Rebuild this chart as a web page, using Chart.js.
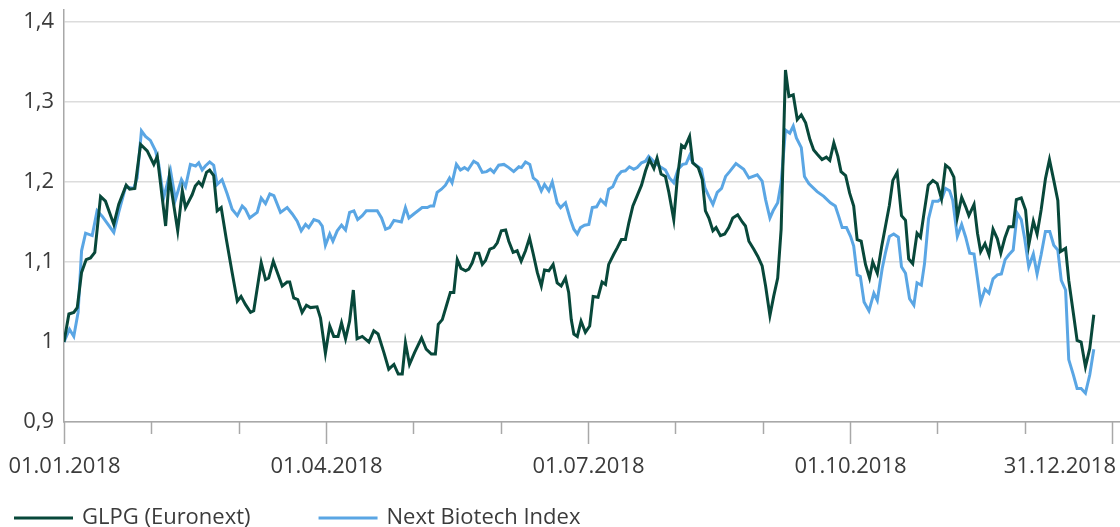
<!DOCTYPE html>
<html>
<head>
<meta charset="utf-8">
<script src="https://cdn.jsdelivr.net/npm/chart.js@4.4.1/dist/chart.umd.min.js"></script>
<style>
    html, body { margin: 0; padding: 0; background: #fff; }
    #wrap { width: 1120px; height: 527px; position: relative; }
</style>
</head>
<body>
<div id="wrap"><canvas id="perfChart"></canvas></div>
<script>
// Series labels
const seriesLabels = ['GLPG (Euronext)', 'Next Biotech Index'];

// x values are days since 01.01.2018
const glpgDays = [0, 1.7, 3.4, 4.6, 6.1, 7.7, 9.2, 10.7, 12.7, 14.4, 17.3, 19.0, 21.6, 22.8, 24.6, 26.6, 28.9, 31.2, 32.4, 35.3,
    36.6, 39.5, 41.1, 42.2, 44.5, 45.6, 46.8, 48.0, 49.5, 50.6, 52.0, 53.2, 54.6, 56.4, 58.4, 60.2, 61.5, 63.0, 64.8, 65.9,
    68.5, 70.0, 71.1, 72.7, 74.1, 75.8, 77.5, 78.4, 79.8, 81.2, 82.7, 84.2, 85.6, 87.9, 89.1, 90.8, 92.3, 93.7, 95.2, 96.4,
    97.8, 99.2, 100.5, 101.8, 103.6, 105.9, 107.6, 109.1, 111.1, 112.8, 114.6, 116.1, 117.5, 118.6, 120.0, 121.8, 124.2, 125.8, 127.6, 129.0,
    130.0, 131.4, 132.8, 134.2, 135.4, 136.6, 137.9, 139.5, 140.6, 141.8, 142.9, 144.1, 145.3, 146.4, 147.9, 149.3, 150.5, 151.9, 153.4, 154.5,
    156.0, 157.4, 158.8, 160.3, 161.7, 163.0, 164.4, 165.8, 166.9, 168.4, 169.9, 171.3, 172.7, 174.2, 175.3, 176.2, 177.1, 178.3, 179.6, 181.1,
    182.6, 183.8, 185.5, 186.9, 188.1, 189.2, 191.0, 192.2, 193.6, 195.0, 196.2, 197.6, 199.1, 200.6, 202.0, 203.4, 204.9, 206.0, 207.4, 208.9,
    210.1, 211.8, 213.0, 214.5, 215.6, 217.3, 218.4, 220.3, 221.7, 222.8, 224.0, 225.4, 226.5, 228.0, 229.5, 230.9, 232.3, 234.0, 235.6, 236.7,
    237.9, 239.6, 241.0, 242.5, 243.7, 245.2, 246.5, 247.9, 249.1, 250.6, 251.8, 253.3, 254.7, 256.1, 257.6, 259.1, 260.4, 261.8, 263.3, 264.8,
    266.0, 267.4, 268.8, 269.9, 271.5, 272.9, 274.3, 275.5, 276.9, 278.4, 279.8, 280.9, 282.5, 284.0, 285.3, 286.7, 287.9, 289.4, 290.9, 292.3,
    293.4, 294.8, 296.3, 297.5, 298.6, 300.2, 301.8, 303.3, 304.8, 306.2, 307.6, 309.1, 310.3, 311.8, 313.2, 314.3, 316.1, 317.3, 318.4, 319.9,
    321.3, 322.7, 324.2, 325.4, 326.8, 328.2, 329.7, 330.8, 332.5, 334.0, 335.1, 336.7, 338.0, 339.4, 340.9, 342.3, 343.8, 345.2, 346.1, 347.9,
    349.0, 350.6, 351.9, 353.3, 354.8, 356.3, 357.7];
const glpgValues = [1.000, 1.035, 1.037, 1.043, 1.087, 1.103, 1.105, 1.112, 1.182, 1.176, 1.147, 1.172, 1.196, 1.191, 1.192, 1.247, 1.239, 1.222, 1.232, 1.145,
    1.207, 1.139, 1.189, 1.168, 1.184, 1.195, 1.200, 1.195, 1.212, 1.215, 1.208, 1.164, 1.168, 1.128, 1.087, 1.051, 1.057, 1.047, 1.037, 1.039,
    1.099, 1.078, 1.080, 1.101, 1.087, 1.070, 1.075, 1.075, 1.055, 1.053, 1.037, 1.046, 1.043, 1.044, 1.030, 0.986, 1.020, 1.007, 1.007, 1.024,
    1.004, 1.026, 1.065, 1.004, 1.007, 1.000, 1.014, 1.010, 0.987, 0.966, 0.972, 0.960, 0.960, 0.999, 0.972, 0.987, 1.005, 0.991, 0.985, 0.985,
    1.022, 1.028, 1.045, 1.062, 1.062, 1.103, 1.092, 1.089, 1.091, 1.099, 1.111, 1.111, 1.097, 1.102, 1.116, 1.118, 1.124, 1.139, 1.140, 1.126,
    1.112, 1.114, 1.101, 1.114, 1.130, 1.110, 1.087, 1.070, 1.090, 1.089, 1.097, 1.074, 1.070, 1.080, 1.062, 1.028, 1.010, 1.007, 1.026, 1.012,
    1.020, 1.057, 1.056, 1.075, 1.072, 1.097, 1.110, 1.118, 1.128, 1.128, 1.149, 1.170, 1.183, 1.196, 1.214, 1.228, 1.217, 1.230, 1.210, 1.207,
    1.187, 1.153, 1.203, 1.246, 1.243, 1.257, 1.224, 1.218, 1.203, 1.164, 1.155, 1.139, 1.143, 1.133, 1.135, 1.143, 1.155, 1.159, 1.150, 1.145,
    1.126, 1.116, 1.107, 1.095, 1.070, 1.033, 1.057, 1.080, 1.141, 1.340, 1.307, 1.309, 1.278, 1.284, 1.274, 1.253, 1.240, 1.234, 1.228, 1.231,
    1.227, 1.249, 1.232, 1.213, 1.208, 1.186, 1.170, 1.128, 1.126, 1.097, 1.080, 1.100, 1.086, 1.119, 1.144, 1.171, 1.202, 1.212, 1.158, 1.152,
    1.104, 1.098, 1.136, 1.131, 1.158, 1.196, 1.202, 1.198, 1.179, 1.221, 1.217, 1.206, 1.156, 1.181, 1.169, 1.158, 1.172, 1.136, 1.113, 1.123,
    1.109, 1.141, 1.129, 1.111, 1.130, 1.144, 1.144, 1.178, 1.180, 1.165, 1.121, 1.151, 1.135, 1.165, 1.204, 1.228, 1.202, 1.177, 1.113, 1.117,
    1.077, 1.036, 1.002, 1.000, 0.969, 0.992, 1.034];

const nbiDays = [0, 1.9, 3.4, 4.9, 6.1, 7.5, 9.8, 11.5, 13.3, 17.3, 19.0, 21.4, 24.2, 25.4, 26.9, 28.3, 30.0, 31.8, 32.9, 34.6,
    37.0, 38.7, 40.8, 42.2, 43.9, 45.7, 46.8, 48.0, 49.1, 50.6, 52.0, 53.2, 54.9, 56.7, 58.4, 60.2, 61.9, 63.0, 64.5, 67.1,
    68.5, 70.0, 71.5, 72.9, 75.2, 77.5, 79.3, 81.0, 82.4, 83.9, 85.0, 86.8, 88.5, 89.7, 90.8, 92.3, 93.4, 94.9, 96.4, 97.8,
    99.2, 100.7, 102.0, 103.6, 105.0, 108.8, 110.3, 111.7, 113.1, 114.6, 117.2, 118.6, 119.8, 121.5, 124.4, 126.2, 127.3, 128.4, 129.6, 131.1,
    132.5, 133.9, 134.8, 136.3, 137.7, 139.1, 140.3, 142.3, 143.7, 145.3, 146.8, 148.1, 149.3, 151.0, 152.8, 154.5, 156.2, 158.0, 158.9, 160.3,
    161.8, 163.0, 164.4, 165.8, 166.9, 168.4, 169.6, 171.3, 172.5, 174.2, 175.9, 177.1, 178.3, 179.4, 180.8, 182.3, 183.5, 185.0, 186.4, 188.1,
    189.2, 190.6, 192.2, 193.6, 195.0, 196.4, 197.9, 199.1, 200.6, 202.0, 203.1, 204.5, 206.0, 207.5, 208.9, 210.3, 211.8, 213.3, 214.9, 216.1,
    217.3, 218.4, 219.9, 221.4, 222.6, 224.0, 225.4, 226.9, 228.4, 229.8, 231.2, 233.4, 236.1, 237.9, 240.8, 242.5, 243.7, 245.2, 246.3, 247.9,
    249.1, 250.6, 252.1, 253.3, 254.4, 256.1, 257.2, 258.7, 261.6, 263.9, 266.2, 267.9, 269.1, 270.3, 271.8, 273.2, 274.3, 275.5, 276.6, 277.9,
    279.6, 281.3, 282.5, 284.2, 285.3, 286.7, 288.2, 289.8, 290.9, 292.3, 293.7, 295.2, 296.3, 297.8, 298.9, 300.3, 301.8, 303.6, 305.0, 306.2,
    307.6, 308.7, 310.3, 311.8, 313.2, 314.6, 316.1, 317.3, 318.4, 319.9, 321.3, 322.7, 324.2, 325.6, 326.9, 328.2, 329.7, 331.1, 332.5, 333.7,
    335.1, 336.7, 338.0, 339.4, 340.9, 342.4, 343.8, 345.2, 346.4, 347.9, 349.0, 350.6, 351.9, 353.3, 354.8, 356.3, 357.7];
const nbiValues = [1.000, 1.016, 1.007, 1.037, 1.114, 1.136, 1.133, 1.164, 1.157, 1.137, 1.162, 1.194, 1.192, 1.205, 1.264, 1.257, 1.252, 1.239, 1.222, 1.180,
    1.214, 1.178, 1.203, 1.194, 1.222, 1.220, 1.224, 1.215, 1.220, 1.225, 1.221, 1.197, 1.203, 1.185, 1.166, 1.158, 1.170, 1.166, 1.155, 1.162,
    1.180, 1.173, 1.185, 1.183, 1.162, 1.168, 1.160, 1.151, 1.139, 1.147, 1.143, 1.153, 1.151, 1.145, 1.121, 1.135, 1.126, 1.139, 1.146, 1.140,
    1.162, 1.164, 1.153, 1.158, 1.164, 1.164, 1.155, 1.141, 1.143, 1.152, 1.150, 1.168, 1.155, 1.160, 1.168, 1.168, 1.170, 1.170, 1.187, 1.191,
    1.196, 1.205, 1.199, 1.222, 1.215, 1.218, 1.215, 1.226, 1.223, 1.212, 1.213, 1.216, 1.212, 1.221, 1.222, 1.218, 1.213, 1.219, 1.218, 1.225,
    1.222, 1.205, 1.201, 1.189, 1.197, 1.189, 1.200, 1.174, 1.168, 1.174, 1.153, 1.141, 1.135, 1.143, 1.146, 1.147, 1.168, 1.169, 1.178, 1.172,
    1.191, 1.194, 1.207, 1.213, 1.214, 1.219, 1.216, 1.218, 1.224, 1.226, 1.232, 1.227, 1.222, 1.218, 1.215, 1.205, 1.199, 1.216, 1.222, 1.223,
    1.233, 1.224, 1.220, 1.216, 1.193, 1.182, 1.172, 1.187, 1.192, 1.207, 1.213, 1.223, 1.216, 1.205, 1.209, 1.201, 1.178, 1.155, 1.164, 1.174,
    1.199, 1.265, 1.261, 1.270, 1.255, 1.243, 1.207, 1.198, 1.188, 1.182, 1.174, 1.170, 1.157, 1.143, 1.143, 1.132, 1.120, 1.084, 1.082, 1.050,
    1.039, 1.061, 1.052, 1.092, 1.111, 1.132, 1.135, 1.131, 1.094, 1.086, 1.054, 1.046, 1.074, 1.071, 1.098, 1.154, 1.176, 1.176, 1.180, 1.192,
    1.189, 1.177, 1.132, 1.147, 1.131, 1.111, 1.110, 1.079, 1.050, 1.066, 1.061, 1.079, 1.084, 1.085, 1.103, 1.109, 1.115, 1.161, 1.153, 1.129,
    1.094, 1.110, 1.085, 1.109, 1.138, 1.138, 1.121, 1.115, 1.077, 1.065, 0.978, 0.959, 0.942, 0.942, 0.936, 0.959, 0.991];

// Axis ticks
const xTickDays = [0, 30.33, 60.67, 91, 121.33, 151.67, 182, 212.33, 242.67, 273, 303.33, 333.67, 364];
const xTickLabels = ['01.01.2018', '', '', '01.04.2018', '', '', '01.07.2018', '', '', '01.10.2018', '', '', '31.12.2018'];
const yTickValues = [0.9, 1.0, 1.1, 1.2, 1.3, 1.4];
const yTickLabels = ['0,9', '1', '1,1', '1,2', '1,3', '1,4'];

const colors = ['#08483a', '#5aa6e4'];
const textColor = '#3b3b3b';
const fontFamily = '"Open Sans", "Noto Sans", sans-serif';
const fontSize = 22;

function toPoints(days, values) {
    return days.map((d, i) => ({ x: d, y: values[i] }));
}

// Draws x tick marks, date labels and the legend below the plot
const bottomDecor = {
    id: 'bottomDecor',
    afterDraw(chart) {
        const ctx = chart.ctx;
        const xs = chart.scales.x;
        const bottom = chart.chartArea.bottom;
        const cw = chart.width;
        ctx.save();
        ctx.strokeStyle = '#a8a8a8';
        ctx.lineWidth = 1.5;
        ctx.font = fontSize + 'px ' + fontFamily;
        ctx.fillStyle = textColor;
        ctx.textBaseline = 'middle';
        ctx.textAlign = 'left';
        xTickDays.forEach((d, i) => {
            const px = Math.round(xs.getPixelForValue(d)) + 0.5;
            const len = xTickLabels[i] ? 22 : 12;
            ctx.beginPath();
            ctx.moveTo(px, bottom);
            ctx.lineTo(px, bottom + len);
            ctx.stroke();
            if (xTickLabels[i]) {
                const w = ctx.measureText(xTickLabels[i]).width;
                let left = px - w / 2;
                left = Math.max(1, Math.min(left, cw - w - 4));
                ctx.fillText(xTickLabels[i], left, bottom + 45);
            }
        });

        // legend
        const ly = 518;
        let lx = 14;
        chart.data.datasets.forEach((ds) => {
            ctx.strokeStyle = ds.borderColor;
            ctx.lineWidth = 3;
            ctx.beginPath();
            ctx.moveTo(lx, ly);
            ctx.lineTo(lx + 59, ly);
            ctx.stroke();
            ctx.fillStyle = textColor;
            ctx.fillText(ds.label, lx + 68, ly);
            lx += 68 + ctx.measureText(ds.label).width + 68;
        });
        ctx.restore();
    }
};

new Chart(document.getElementById('perfChart'), {
    type: 'line',
    data: {
        datasets: [{
            label: seriesLabels[0],
            data: toPoints(glpgDays, glpgValues),
            borderColor: colors[0],
            backgroundColor: colors[0],
            borderWidth: 3,
            pointRadius: 0,
            tension: 0
        }, {
            label: seriesLabels[1],
            data: toPoints(nbiDays, nbiValues),
            borderColor: colors[1],
            backgroundColor: colors[1],
            borderWidth: 3,
            pointRadius: 0,
            tension: 0
        }]
    },
    options: {
        responsive: true,
        maintainAspectRatio: false,
        animation: false,
        layout: { autoPadding: false, padding: { top: 10, left: 0, right: 0, bottom: 0 } },
        plugins: {
            legend: { display: false },
            tooltip: { enabled: false }
        },
        scales: {
            x: {
                type: 'linear',
                bounds: 'data',
                min: 0,
                max: 366.8,
                afterBuildTicks: (scale) => { scale.ticks = xTickDays.map(v => ({ value: v })); },
                afterFit: (scale) => {
                    scale.height = 105;
                    scale.paddingLeft = 0;
                    scale.paddingRight = 0;
                },
                ticks: { display: false },
                grid: { display: false },
                border: { display: true, color: '#a8a8a8', width: 1.5 }
            },
            y: {
                bounds: 'data',
                min: 0.9,
                max: 1.415,
                afterBuildTicks: (scale) => { scale.ticks = yTickValues.map(v => ({ value: v })); },
                afterFit: (scale) => {
                    scale.width = 64;
                    // no extra room above the axis for the top label
                    scale.paddingTop = 0;
                    scale.paddingBottom = 0;
                },
                ticks: {
                    padding: 10,
                    color: textColor,
                    font: { family: fontFamily, size: fontSize },
                    callback: (value, index) => yTickLabels[index]
                },
                grid: { color: '#dcdcdc', lineWidth: 1.5, drawTicks: false },
                border: { display: true, color: '#a8a8a8', width: 1.5 }
            }
        }
    },
    plugins: [bottomDecor]
});
</script>
</body>
</html>
